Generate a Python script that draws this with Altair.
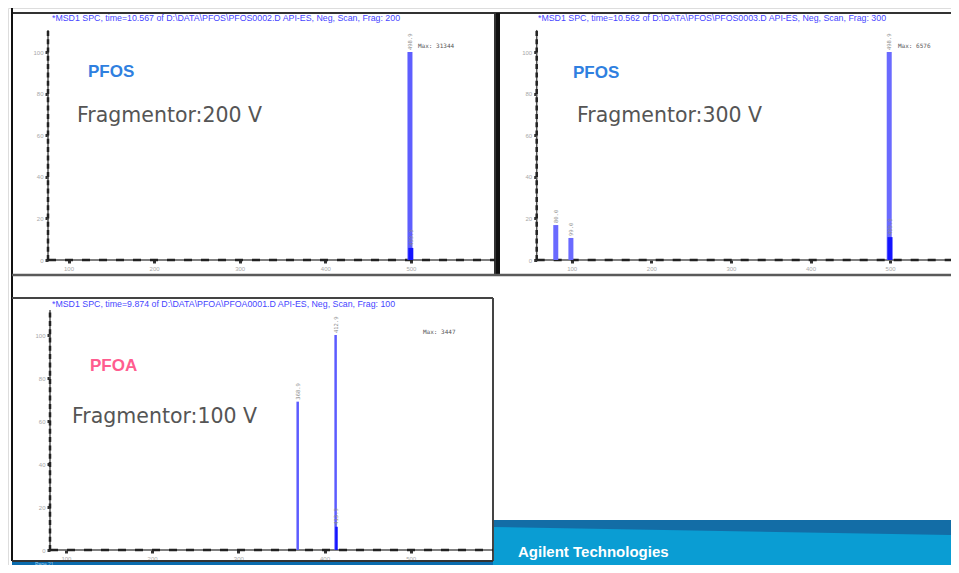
import altair as alt
import pandas as pd

# ---------------- data ----------------
x_ticks = [100, 200, 300, 400, 500]
y_ticks = [0, 20, 40, 60, 80, 100]

# Panel 1: PFOS, Fragmentor 200 V
p1_mz = [498.9]
p1_int = [100.0]
p1_lab = ["498.9"]
p1_iso_mz = [499.9]
p1_iso_int = [5.8]
p1_iso_lab = ["499.9"]

# Panel 2: PFOS, Fragmentor 300 V
p2_mz = [80.0, 99.0, 498.9]
p2_int = [16.8, 10.6, 100.0]
p2_lab = ["80.0", "99.0", "498.9"]
p2_iso_mz = [499.9]
p2_iso_int = [11.0]
p2_iso_lab = ["499.9"]

# Panel 3: PFOA, Fragmentor 100 V
p3_mz = [368.9, 412.9]
p3_int = [69.0, 100.0]
p3_lab = ["368.9", "412.9"]
p3_iso_mz = [413.9]
p3_iso_int = [10.8]
p3_iso_lab = ["413.9"]

titles = [
    "*MSD1 SPC, time=10.567 of D:\\DATA\\PFOS\\PFOS0002.D   API-ES, Neg, Scan, Frag: 200",
    "*MSD1 SPC, time=10.562 of D:\\DATA\\PFOS\\PFOS0003.D   API-ES, Neg, Scan, Frag: 300",
    "*MSD1 SPC, time=9.874 of D:\\DATA\\PFOA\\PFOA0001.D   API-ES, Neg, Scan, Frag: 100",
]
compounds = ["PFOS", "PFOS", "PFOA"]
compound_colors = ["#2f7fe0", "#2f7fe0", "#ff5c8f"]
frags = ["Fragmentor:200 V", "Fragmentor:300 V", "Fragmentor:100 V"]
maxes = ["Max: 31344", "Max: 6576", "Max: 3447"]
brand = "Agilent Technologies"
page_txt = "Page 21"

# ---------------- layout (page pixels) ----------------
OX, OY = 8, 8            # page offset of the single view
W, H = 943, 557          # view fills the page inside its 8px margin
SANS = "'Liberation Sans Narrow', 'Liberation Sans', Arial, sans-serif"


def xdomain(k, v0, p0):
    """x scale domain so that value v0 sits at page x p0 with k px per unit."""
    d0 = v0 - (p0 - OX) / k
    return [d0, d0 + W / k]


def ydomain(k, v0, p0):
    top = v0 + (p0 - OY) / k
    return [top - H / k, top]


def xval(k, v0, p0, p):
    return v0 + (p - p0) / k


def txt(text, px, py, size, color, font=SANS, weight="normal"):
    return alt.Chart(pd.DataFrame({"t": [text]})).mark_text(
        align="left", baseline="middle", font=font, fontSize=size,
        fontWeight=weight, color=color
    ).encode(x=alt.value(px - OX), y=alt.value(py - OY), text="t:N")


def panel(mz, inten, lab, iso_mz, iso_int, iso_lab, kx, x100, ky, y0,
          yaxis_px, xend_px, ytop, bar_w, bar_color, iso_color):
    xdom = xdomain(kx, 100, x100)
    ydom = ydomain(ky, 0, y0)
    xaxis = alt.Axis(orient="bottom", offset=-(OY + H - y0), values=x_ticks, domain=False,
                     grid=False, tickSize=3, tickWidth=3, tickColor="#333333",
                     labelFontSize=6, labelColor="#a8a8a8", labelPadding=2,
                     labelFlush=False, title=None)
    yaxis = alt.Axis(orient="left", offset=-(yaxis_px - OX), values=y_ticks, domain=False,
                     grid=False, tickSize=3, tickWidth=3, tickColor="#333333",
                     labelFontSize=6, labelColor="#a8a8a8", labelPadding=2,
                     labelFlush=False, title=None)
    xs = alt.Scale(domain=xdom, nice=False, zero=False)
    ys = alt.Scale(domain=ydom, nice=False, zero=False)

    def X(f="mz"):
        return alt.X(f"{f}:Q", scale=xs, axis=xaxis)

    def Y(f="y"):
        return alt.Y(f"{f}:Q", scale=ys, axis=yaxis)

    ya = xval(kx, 100, x100, yaxis_px)
    xe = xval(kx, 100, x100, xend_px)
    axis_lines = pd.DataFrame({"mz": [ya, ya], "mz2": [xe, ya],
                               "y": [0, 0], "y2": [0, ytop]})
    xline = axis_lines.iloc[[0]]
    yline = axis_lines.iloc[[1]]

    main = pd.DataFrame({"mz": mz, "y": [0.0] * len(mz), "y2": inten, "label": lab})
    iso = pd.DataFrame({"mz": iso_mz, "y": [0.0] * len(iso_mz), "y2": iso_int, "label": iso_lab})
    labels = pd.concat([main, iso], ignore_index=True)

    return alt.layer(
        alt.Chart(axis_lines).mark_rule(color="#555555", strokeWidth=1.5).encode(
            x=X(), x2="mz2:Q", y=Y(), y2="y2:Q"),
        alt.Chart(xline).mark_rule(color="#222222", strokeWidth=2.5, strokeDash=[8, 9]).encode(
            x=X(), x2="mz2:Q", y=Y(), y2="y2:Q"),
        alt.Chart(yline).mark_rule(color="#222222", strokeWidth=2.5, strokeDash=[5, 3.3]).encode(
            x=X(), x2="mz2:Q", y=Y(), y2="y2:Q"),
        alt.Chart(main).mark_rule(color=bar_color, strokeWidth=bar_w).encode(
            x=X(), y=Y(), y2="y2:Q"),
        alt.Chart(iso).mark_rule(color=iso_color, strokeWidth=bar_w).encode(
            x=X(), y=Y(), y2="y2:Q"),
        alt.Chart(labels).mark_text(angle=270, align="left", baseline="middle", dx=2,
                                    font="DejaVu Sans Mono", fontSize=5.5,
                                    color="#8a8a8a").encode(
            x=X(), y=Y("y2"), text="label:N"),
    )


# spectra: px per unit, page position of m/z 100 tick, px per % and page y of 0 %
p1 = panel(p1_mz, p1_int, p1_lab, p1_iso_mz, p1_iso_int, p1_iso_lab,
           0.856, 68.5, 2.08, 260, 48, 495, 110.6, 5, "#5e5eff", "#1414ff")
p2 = panel(p2_mz, p2_int, p2_lab, p2_iso_mz, p2_iso_int, p2_iso_lab,
           0.796, 571.7, 2.08, 260, 536.7, OX + W, 110.6, 5, "#6a6aff", "#1414ff")
p3 = panel(p3_mz, p3_int, p3_lab, p3_iso_mz, p3_iso_int, p3_iso_lab,
           0.862, 65.9, 2.15, 550, 50, 493, 111.6, 2.5, "#5c5cff", "#1414ff")

# ---------------- page decorations (frames, footer) in page pixels ----------------
R, B = OX + W, OY + H
px = alt.Scale(domain=[OX, R], nice=False, zero=False)
py = alt.Scale(domain=[OY, B], nice=False, zero=False, reverse=True)

frames = pd.DataFrame({
    "x":  [12, 12, 495, 498, 12, 12, 493, 12],
    "x2": [R, 12, 495, 498, R, 493, 493, 493],
    "y":  [13, 8, 13, 13, 275, 298, 298, 561],
    "y2": [13, 561, 275, 275, 275, 298, 561, 561],
    "c":  ["#333333", "#111111", "#333333", "#111111", "#5a5a5a", "#444444", "#444444", "#333333"],
    "w":  [2, 2, 2, 4, 2.5, 2, 2, 2],
})
strip = pd.DataFrame({"x": [12], "x2": [493], "y": [562], "y2": [B]})
dark = pd.DataFrame({"x": [493, R], "y": [520, 520], "y2": [B, B]})
light = pd.DataFrame({"x": [493, R], "y": [527, 535], "y2": [B, B]})

PX = alt.X("x:Q", scale=px, axis=None)
PY = alt.Y("y:Q", scale=py, axis=None)

deco = alt.layer(
    alt.Chart(strip).mark_rect(color="#0b6cae").encode(x=PX, x2="x2:Q", y=PY, y2="y2:Q"),
    alt.Chart(dark).mark_area(color="#136da6").encode(x=PX, y=PY, y2="y2:Q"),
    alt.Chart(light).mark_area(color="#0a9dd3").encode(x=PX, y=PY, y2="y2:Q"),
    alt.Chart(frames).mark_rule().encode(
        x=PX, x2="x2:Q", y=PY, y2="y2:Q",
        color=alt.Color("c:N", scale=None),
        strokeWidth=alt.StrokeWidth("w:Q", scale=None)),
)

texts = alt.layer(
    txt(titles[0], 52, 18, 8.8, "#4646ff"),
    txt(titles[1], 538, 18, 8.8, "#4646ff"),
    txt(titles[2], 52, 304, 8.8, "#4646ff"),
    txt(compounds[0], 88, 72, 17, compound_colors[0], weight="bold"),
    txt(compounds[1], 573, 73, 17, compound_colors[1], weight="bold"),
    txt(compounds[2], 90, 366, 17, compound_colors[2], weight="bold"),
    txt(frags[0], 77, 116, 20.5, "#555555", font="DejaVu Sans"),
    txt(frags[1], 577, 116, 20.5, "#555555", font="DejaVu Sans"),
    txt(frags[2], 72, 417, 20.5, "#555555", font="DejaVu Sans"),
    txt(maxes[0], 418, 46, 6, "#555555", font="DejaVu Sans Mono"),
    txt(maxes[1], 898, 46, 6, "#555555", font="DejaVu Sans Mono"),
    txt(maxes[2], 423, 332, 6, "#555555", font="DejaVu Sans Mono"),
    txt(brand, 518, 552, 15, "white", weight="bold"),
    txt(page_txt, 35, 563.5, 5, "#9fd0f0"),
)

chart = alt.layer(deco, p1, p2, p3, texts).resolve_scale(
    x="independent", y="independent"
).properties(
    width=W, height=H, padding=0, autosize=alt.AutoSizeParams(type="none")
).configure_view(strokeWidth=0, strokeOpacity=0).configure(background="white")

chart.save("out.html", embed_options={"renderer": "svg", "actions": False})
